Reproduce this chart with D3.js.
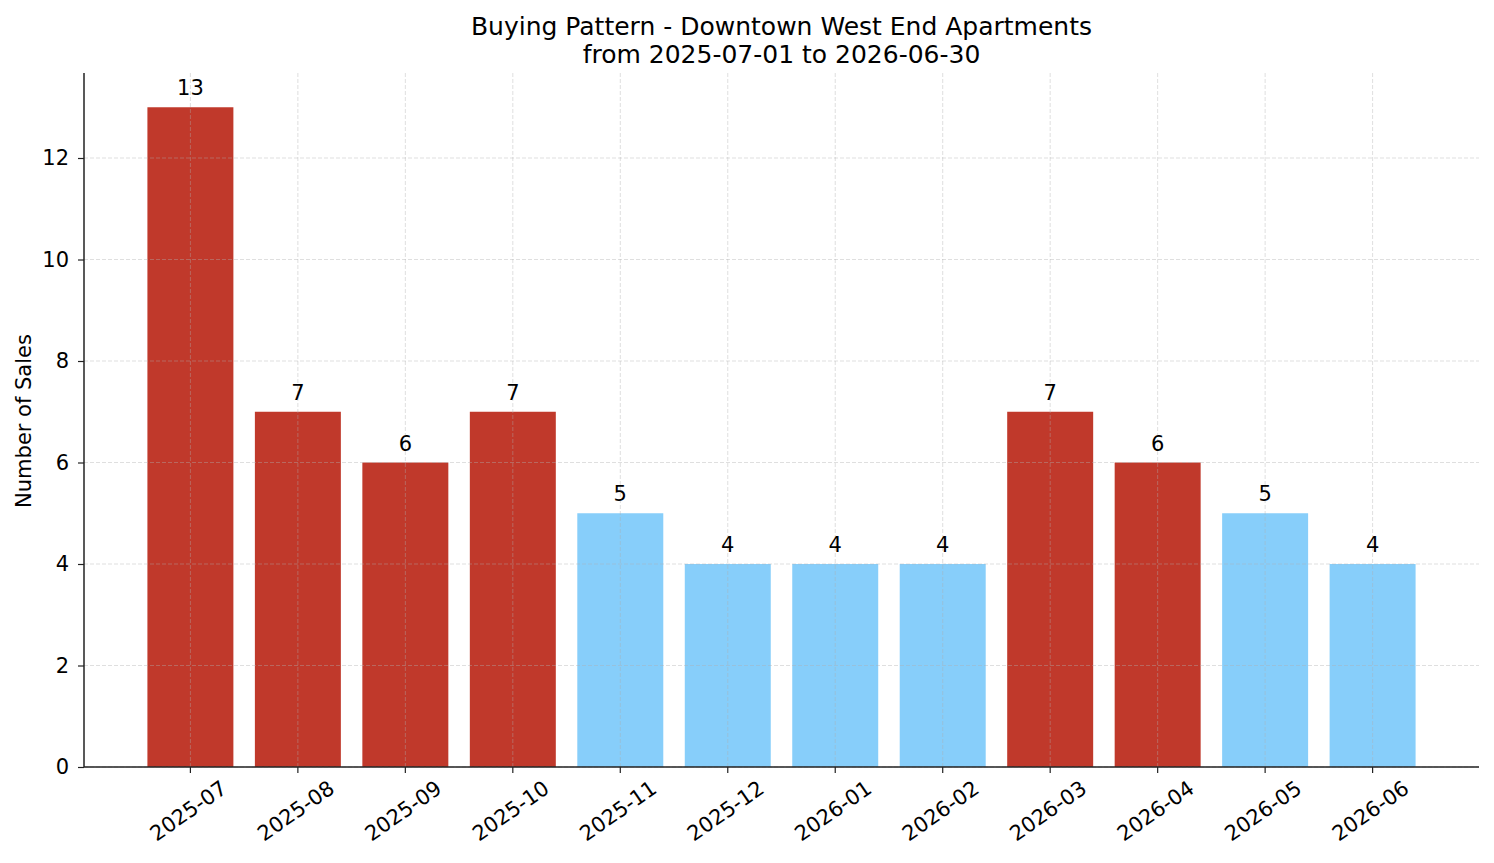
<!DOCTYPE html>
<html><head><meta charset="utf-8">
<script src="https://cdn.jsdelivr.net/npm/d3@7"></script>
<style>body{margin:0;background:#fff}svg{display:block;font-family:"DejaVu Sans",sans-serif}</style>
</head><body><svg id="c" width="1494" height="863"></svg>
<script>
const months = ["2025-07","2025-08","2025-09","2025-10","2025-11","2025-12","2026-01","2026-02","2026-03","2026-04","2026-05","2026-06"];
const sales = [13,7,6,7,5,4,4,4,7,6,5,4];
const yTicks = [0,2,4,6,8,10,12];
const titleLines = ["Buying Pattern - Downtown West End Apartments","from 2025-07-01 to 2026-06-30"];
const yLabel = "Number of Sales";

const W=1494,H=863, L=84, R=1479, T=73, B=767;
const FS=21;
const svg=d3.select("#c");
const x=d3.scaleLinear().domain([-0.99,11.99]).range([L,R]);
const y=d3.scaleLinear().domain([0,13.675]).range([B,T]);
const bw = x(0.8)-x(0);
const color = v => v>5 ? "#c0392b" : "#87cefa";

svg.append("g").selectAll("rect").data(sales).join("rect")
  .attr("x",(d,i)=>x(i-0.4)).attr("width",bw)
  .attr("y",d=>y(d)).attr("height",d=>B-y(d)).attr("fill",d=>color(d));

// grid on top
const g=svg.append("g").attr("stroke","#b0b0b0").attr("stroke-opacity",0.5).attr("stroke-width",0.8).attr("stroke-dasharray","4,2");
g.selectAll(".gy").data(yTicks).join("line").attr("x1",L).attr("x2",R).attr("y1",d=>y(d)).attr("y2",d=>y(d));
g.selectAll(".gx").data(months).join("line").attr("x1",(d,i)=>x(i)).attr("x2",(d,i)=>x(i)).attr("y1",T).attr("y2",B);

// value labels
svg.append("g").selectAll("text").data(sales).join("text")
  .attr("x",(d,i)=>x(i)).attr("y",d=>y(d)-12).attr("text-anchor","middle")
  .attr("font-size",FS).attr("fill","#000").text(d=>d);

// axes
const yAxis=d3.axisLeft(y).tickValues(yTicks).tickSize(6).tickPadding(9);
const ya=svg.append("g").attr("transform",`translate(${L},0)`).call(yAxis);
ya.select(".domain").remove();
ya.selectAll("text").attr("font-size",FS).attr("fill","#000").attr("font-family","DejaVu Sans");
ya.selectAll("line").attr("stroke","#222").attr("stroke-width",1.2);

const xa=svg.append("g").attr("transform",`translate(0,${B})`);
xa.selectAll("line").data(months).join("line").attr("x1",(d,i)=>x(i)).attr("x2",(d,i)=>x(i)).attr("y1",0).attr("y2",6).attr("stroke","#222").attr("stroke-width",1.2);
xa.selectAll("text").data(months).join("text")
  .attr("transform",(d,i)=>`translate(${x(i)-2},${44}) rotate(-35)`)
  .attr("text-anchor","middle").attr("dominant-baseline","central")
  .attr("font-size",FS).attr("fill","#000").text(d=>d);

// spines
svg.append("line").attr("x1",L).attr("x2",L).attr("y1",T).attr("y2",B).attr("stroke","#222").attr("stroke-width",1.5);
svg.append("line").attr("x1",L).attr("x2",R).attr("y1",B).attr("y2",B).attr("stroke","#222").attr("stroke-width",1.5);

// y label
svg.append("text").attr("transform",`translate(24,${421}) rotate(-90)`)
  .attr("text-anchor","middle").attr("dominant-baseline","central").attr("font-size",FS).text(yLabel);

// title
svg.append("g").selectAll("text").data(titleLines).join("text")
  .attr("x",(L+R)/2).attr("y",(d,i)=>26+i*28).attr("text-anchor","middle").attr("dominant-baseline","central")
  .attr("font-size",25).attr("fill","#000").text(d=>d);
</script></body></html>
